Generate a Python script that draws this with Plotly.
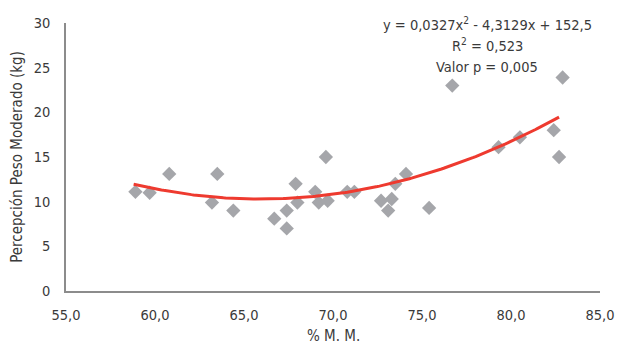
import numpy as np
import plotly.graph_objects as go

# Data
mm_pct = [58.9, 59.7, 60.8, 63.5, 63.2, 64.4, 66.7, 67.4, 67.4, 67.9, 68.0,
          69.6, 69.0, 69.2, 69.7, 70.8, 71.2, 72.7, 73.3, 73.1, 73.5, 74.1,
          75.4, 76.7, 82.9, 79.3, 80.5, 82.4, 82.7]
peso_moderado = [11.1, 11.0, 13.1, 13.1, 9.9, 9.0, 8.1, 9.0, 7.0, 12.0, 9.9,
                 15.0, 11.1, 9.9, 10.1, 11.1, 11.1, 10.1, 10.3, 9.0, 12.0, 13.1,
                 9.3, 23.0, 23.9, 16.1, 17.2, 18.0, 15.0]

# Polynomial trend line coefficients (as shown in the chart): a*x^2 + b*x + c
trend_coefs = [0.0327, -4.3129, 152.5]
trend_x_range = [58.8, 82.7]

x_ticks = [55, 60, 65, 70, 75, 80, 85]
y_ticks = [0, 5, 10, 15, 20, 25, 30]

eq_lines = ["y = 0,0327x<sup>2</sup> - 4,3129x + 152,5",
            "R<sup>2</sup> = 0,523",
            "Valor p = 0,005"]

FONT = "Liberation Sans Narrow, Arial Narrow, DejaVu Sans Condensed, Roboto, sans-serif"
TXT = "#3a3a3a"

tx = np.linspace(trend_x_range[0], trend_x_range[1], 200)
ty = np.polyval(trend_coefs, tx)

fig = go.Figure()
fig.add_trace(go.Scatter(
    x=mm_pct, y=peso_moderado, mode="markers",
    marker=dict(symbol="diamond", size=11, color="#a5a6aa", line=dict(width=0)),
    showlegend=False, hoverinfo="x+y"))
fig.add_trace(go.Scatter(
    x=tx, y=ty, mode="lines",
    line=dict(color="#ee3a2f", width=3),
    showlegend=False, hoverinfo="skip"))

line_y = [0.996, 0.918, 0.836]
for t, yy in zip(eq_lines, line_y):
    fig.add_annotation(text=t, xref="paper", yref="paper", x=0.789, y=yy,
                       xanchor="center", yanchor="middle", showarrow=False,
                       font=dict(family=FONT, size=14.5, color=TXT))

# axis titles placed as paper annotations so the plot area stays fixed
fig.add_annotation(text="% M. M.", xref="paper", yref="paper", x=0.5, y=-0.168,
                   xanchor="center", yanchor="middle", showarrow=False,
                   font=dict(family=FONT, size=15, color=TXT))
fig.add_annotation(text="Percepción Peso Moderado (kg)", xref="paper", yref="paper",
                   x=-0.092, y=0.5, textangle=-90,
                   xanchor="center", yanchor="middle", showarrow=False,
                   font=dict(family=FONT, size=15, color=TXT))

fig.update_layout(
    width=618, height=344,
    margin=dict(l=66, r=18, t=23, b=53, autoexpand=False),
    paper_bgcolor="white", plot_bgcolor="white",
    separators=",.",
    font=dict(family=FONT, size=15, color=TXT),
    xaxis=dict(range=[55, 85], tickvals=x_ticks, tickformat=".1f",
               showgrid=False, zeroline=False, showline=True,
               linecolor="#8c8c8c", linewidth=1.5, ticks="",
               ticklabelstandoff=10, automargin=False,
               tickfont=dict(family=FONT, size=14.5, color=TXT)),
    yaxis=dict(range=[0, 30], tickvals=y_ticks,
               showgrid=False, zeroline=False, showline=True,
               linecolor="#8c8c8c", linewidth=1.5, ticks="",
               ticklabelstandoff=11, automargin=False,
               tickfont=dict(family=FONT, size=14.5, color=TXT)),
)

fig.write_html("out.html",
               config={"displayModeBar": False},
               post_script="document.body.style.margin='0';document.body.style.overflow='hidden';")
